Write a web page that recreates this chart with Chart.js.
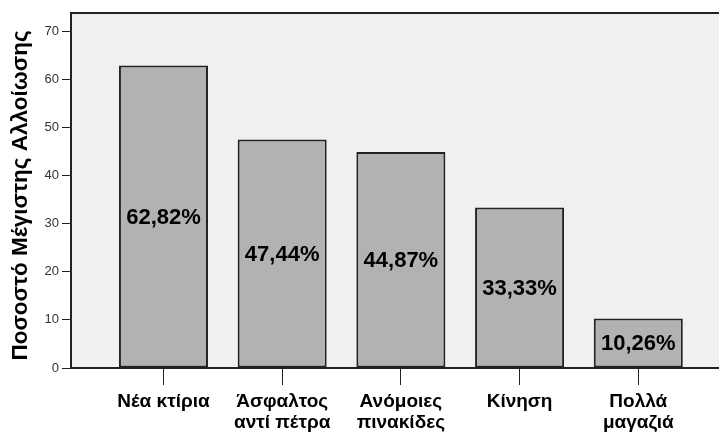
<!DOCTYPE html>
<html>
<head>
<meta charset="utf-8">
<script src="https://cdn.jsdelivr.net/npm/chart.js@4"></script>
<style>
  html, body { margin: 0; padding: 0; background: #fff; overflow: hidden; }
  #wrap { width: 719px; height: 435px; }
</style>
</head>
<body>
<div id="wrap"><canvas id="myChart" width="719" height="435"></canvas></div>
<script>
// data
const categories = [
    ['Νέα κτίρια'],
    ['Άσφαλτος', 'αντί πέτρα'],
    ['Ανόμοιες', 'πινακίδες'],
    ['Κίνηση'],
    ['Πολλά', 'μαγαζιά']
];
const values = [62.82, 47.44, 44.87, 33.33, 10.26];
const valueLabels = ['62,82%', '47,44%', '44,87%', '33,33%', '10,26%'];
const yTicks = [0, 10, 20, 30, 40, 50, 60, 70];
const yTitle = 'Ποσοστό Μέγιστης Αλλοίωσης';

const lineColor = '#222222';
const fontFamily = '"Liberation Sans", Arial, sans-serif';

// plot frame, y title + labels inside the bars
const framePlugin = {
    id: 'frame',
    beforeDraw(chart) {
        const { ctx, chartArea } = chart;
        ctx.save();
        ctx.fillStyle = '#f0f0f0';
        ctx.fillRect(chartArea.left, chartArea.top, chartArea.right - chartArea.left, chartArea.bottom - chartArea.top);
        ctx.restore();
    },
    afterDraw(chart) {
        const { ctx, chartArea } = chart;
        ctx.save();
        ctx.strokeStyle = lineColor;
        ctx.lineWidth = 2;
        ctx.beginPath();
        ctx.moveTo(chartArea.left - 1, chartArea.top);
        ctx.lineTo(chartArea.right, chartArea.top);
        ctx.stroke();

        // y axis title, sits a bit lower than the plot centre
        ctx.translate(21, (chartArea.top + chartArea.bottom) / 2 + 5);
        ctx.rotate(-Math.PI / 2);
        ctx.font = 'bold 22.5px ' + fontFamily;
        ctx.fillStyle = '#000';
        ctx.textAlign = 'center';
        ctx.textBaseline = 'middle';
        ctx.fillText(yTitle, 0, 0);
        ctx.restore();
    },
    afterDatasetsDraw(chart) {
        const { ctx } = chart;
        const meta = chart.getDatasetMeta(0);
        ctx.save();
        ctx.font = 'bold 22px ' + fontFamily;
        ctx.fillStyle = '#000';
        ctx.textAlign = 'center';
        ctx.textBaseline = 'middle';
        meta.data.forEach((bar, i) => {
            ctx.fillText(valueLabels[i], bar.x, (bar.y + bar.base) / 2 + 1);
        });
        ctx.restore();
    }
};

const ctx = document.getElementById('myChart');
let myChart = new Chart(ctx, {
    type: 'bar',
    data: {
        datasets: [{
            data: values.map((v, i) => ({ x: i, y: v })),
            backgroundColor: '#b2b2b2',
            borderColor: lineColor,
            borderWidth: 2,
            borderSkipped: false,
            barPercentage: 0.75,
            categoryPercentage: 1
        }]
    },
    options: {
        responsive: false,
        animation: false,
        layout: { padding: { top: 13, right: 0, left: 0, bottom: 0 } },
        plugins: {
            legend: { display: false },
            tooltip: { enabled: false }
        },
        scales: {
            x: {
                type: 'linear',
                offset: false,
                min: -0.779,
                max: 4.68,
                afterBuildTicks: s => { s.ticks = categories.map((c, i) => ({ value: i })); },
                afterFit: s => { s.height = 67; },
                grid: {
                    offset: false,
                    drawOnChartArea: false,
                    drawTicks: true,
                    tickLength: 17,
                    color: lineColor,
                    lineWidth: 1
                },
                border: { display: true, color: lineColor, width: 2 },
                ticks: {
                    autoSkip: false,
                    maxRotation: 0,
                    padding: 6,
                    color: '#000',
                    font: { family: fontFamily, size: 19, weight: 'bold', lineHeight: 1.12 },
                    callback: v => categories[v]
                }
            },
            y: {
                min: 0,
                max: 73.74,
                afterBuildTicks: s => { s.ticks = yTicks.map(v => ({ value: v })); },
                afterFit: s => { s.width = 71; },
                grid: {
                    drawOnChartArea: false,
                    drawTicks: true,
                    tickLength: 9,
                    color: lineColor,
                    lineWidth: 1
                },
                border: { display: true, color: lineColor, width: 2 },
                ticks: {
                    padding: 3,
                    color: '#333',
                    font: { family: fontFamily, size: 13 }
                },
                title: { display: false }
            }
        }
    },
    plugins: [framePlugin]
});
</script>
</body>
</html>
